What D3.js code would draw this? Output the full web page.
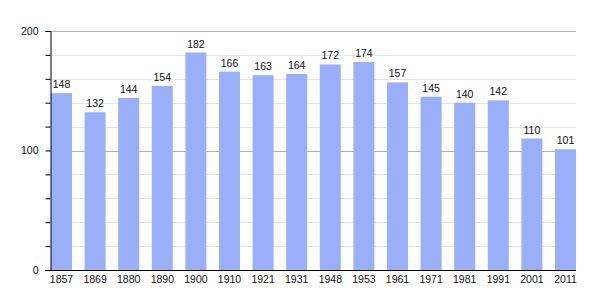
<!DOCTYPE html>
<html>
<head>
<meta charset="utf-8">
<script src="https://cdn.jsdelivr.net/npm/d3@7"></script>
<style>
  body { margin: 0; background: #fff; }
  svg { display: block; font-family: 'Liberation Sans', Arial, sans-serif; }
</style>
</head>
<body>
<svg id="chart"></svg>
<script>
const years = ["1857", "1869", "1880", "1890", "1900", "1910", "1921", "1931", "1948", "1953", "1961", "1971", "1981", "1991", "2001", "2011"];
const population = [148, 132, 144, 154, 182, 166, 163, 164, 172, 174, 157, 145, 140, 142, 110, 101];
const yTicks = [0, 100, 200];
const yMinorTicks = [20, 40, 60, 80, 120, 140, 160, 180];

const width = 605;
const height = 300;

const svg = d3.select("#chart")
    .attr("width", width)
    .attr("height", height);

const x = d3.scaleBand()
    .domain(years)
    .range([51, 576])
    .paddingInner(0.375)
    .paddingOuter(0);

const y = d3.scaleLinear()
    .domain([0, 200])
    .range([270, 31]);

// grid lines
svg.append("g")
    .selectAll("line")
    .data(yMinorTicks)
    .enter()
    .append("line")
    .attr("x1", 50)
    .attr("x2", 576)
    .attr("y1", d => Math.round(y(d)) + 0.5)
    .attr("y2", d => Math.round(y(d)) + 0.5)
    .attr("stroke", "#e4e4e4")
    .attr("stroke-width", 1);

svg.append("g")
    .selectAll("line")
    .data(yTicks.filter(d => d > 0))
    .enter()
    .append("line")
    .attr("x1", 50)
    .attr("x2", 576)
    .attr("y1", d => Math.round(y(d)) + 0.5)
    .attr("y2", d => Math.round(y(d)) + 0.5)
    .attr("stroke", "#b0b0b0")
    .attr("stroke-width", 1);

// bars
svg.append("g")
    .selectAll("rect")
    .data(population)
    .enter()
    .append("rect")
    .attr("x", (d, i) => x(years[i]))
    .attr("y", d => y(d))
    .attr("width", x.bandwidth())
    .attr("height", d => y(0) - y(d))
    .attr("fill", "#9aaffa");

// value labels
svg.append("g")
    .selectAll("text")
    .data(population)
    .enter()
    .append("text")
    .attr("x", (d, i) => x(years[i]) + x.bandwidth() / 2)
    .attr("y", d => y(d) - 5)
    .attr("text-anchor", "middle")
    .attr("font-size", "10.5px")
    .attr("fill", "#111")
    .text(d => d);

// y axis
const yAxis = svg.append("g")
    .attr("transform", "translate(50.5,0)")
    .call(d3.axisLeft(y).tickValues(yTicks.concat(yMinorTicks)).tickSize(5).tickFormat(d => yTicks.includes(d) ? d : ""));
yAxis.select(".domain").attr("stroke", "#000");
yAxis.selectAll(".tick line").attr("stroke", "#000");
yAxis.selectAll(".tick text")
    .attr("x", -12)
    .attr("font-size", "10.5px")
    .attr("font-family", "'Liberation Sans', Arial, sans-serif")
    .attr("fill", "#111");

// x axis
const xAxis = svg.append("g")
    .attr("transform", "translate(0,270.5)")
    .call(d3.axisBottom(x).tickSize(0).tickPadding(5));
xAxis.select(".domain").attr("stroke", "#000").attr("d", "M45,0H576");
xAxis.selectAll(".tick text")
    .attr("font-size", "10.5px")
    .attr("font-family", "'Liberation Sans', Arial, sans-serif")
    .attr("fill", "#111");
</script>
</body>
</html>
